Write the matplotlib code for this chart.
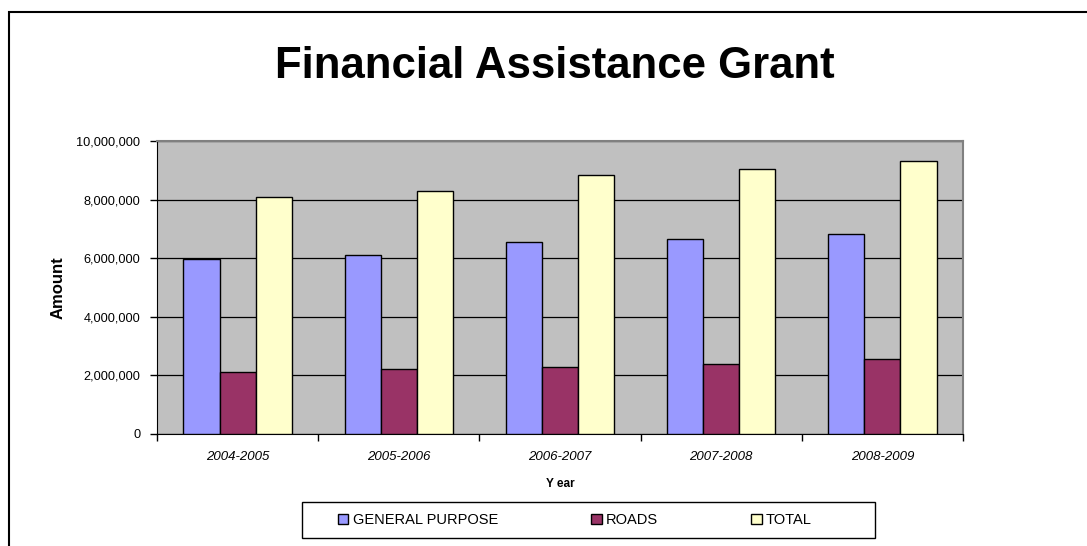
import matplotlib.pyplot as plt
import matplotlib.ticker as mticker
from matplotlib.patches import Rectangle
import numpy as np

plt.rcParams['font.family'] = ['Liberation Sans', 'DejaVu Sans']

years = ['2004-2005', '2005-2006', '2006-2007', '2007-2008', '2008-2009']
general_purpose = [5960000, 6120000, 6540000, 6670000, 6810000]
roads = [2120000, 2230000, 2280000, 2380000, 2550000]
total = [8100000, 8300000, 8850000, 9060000, 9320000]

series = [
    ('GENERAL PURPOSE', general_purpose, '#9999FF'),
    ('ROADS', roads, '#993366'),
    ('TOTAL', total, '#FFFFCC'),
]

W, H = 1087, 546
fig = plt.figure(figsize=(W / 100, H / 100), dpi=100)

# outer chart border (cut off at right and bottom like the original)
fig.patches.append(Rectangle((9 / W, -0.1), 1.2, 1 - 12 / H + 0.1,
                             transform=fig.transFigure, fill=False,
                             edgecolor='black', linewidth=1.5))

ax = fig.add_axes([157 / W, 1 - 434 / H, (963 - 157) / W, (434 - 141) / H])
ax.set_facecolor('#C0C0C0')

x = np.arange(len(years))
bw = 0.224
for i, (name, vals, color) in enumerate(series):
    ax.bar(x + (i - 1) * bw, vals, width=bw, color=color, edgecolor='black',
           linewidth=1.0, label=name, zorder=3)

ax.set_xlim(-0.5, len(years) - 0.5)
ax.set_ylim(0, 10000000)
ax.yaxis.set_major_locator(mticker.MultipleLocator(2000000))
ax.yaxis.set_major_formatter(mticker.FuncFormatter(lambda v, p: f'{int(v):,}'))
ax.grid(axis='y', color='black', linewidth=0.9, zorder=1)
ax.set_axisbelow(True)

ax.set_xticks(x)
ax.set_xticklabels(years, fontstyle='italic', fontsize=9.5)
ax.set_xticks(np.arange(-0.5, len(years), 1.0), minor=True)
ax.tick_params(axis='x', which='major', length=0, pad=12)
ax.tick_params(axis='x', which='minor', length=5, direction='out', width=1)
ax.tick_params(axis='y', length=5, direction='out', width=1, labelsize=9.2, pad=7)

for side in ['top', 'right']:
    ax.spines[side].set_color('#808080')
    ax.spines[side].set_linewidth(1.5)
ax.spines['left'].set_color('black')
ax.spines['bottom'].set_color('black')

ax.set_ylabel('Amount', fontsize=12, fontweight='bold', labelpad=8)
ax.set_xlabel('Y ear', fontsize=8.5, fontweight='bold', labelpad=11)

fig.text(555 / W, 1 - 67 / H, 'Financial Assistance Grant', ha='center', va='center',
         fontsize=31.5, fontweight='bold')

# legend box drawn separately, entries centred inside it
fig.patches.append(Rectangle((302 / W, 1 - 538 / H), (875 - 302) / W, 36 / H,
                             transform=fig.transFigure, fill=True, facecolor='white',
                             edgecolor='black', linewidth=1.0))
leg = fig.legend(loc='center', ncol=3, bbox_to_anchor=(575 / W, 1 - 520 / H),
                 frameon=False, fontsize=10.5, columnspacing=6.4,
                 handlelength=0.7, handleheight=0.7, handletextpad=0.3,
                 borderaxespad=0)

fig.savefig('out.png', dpi=100)
